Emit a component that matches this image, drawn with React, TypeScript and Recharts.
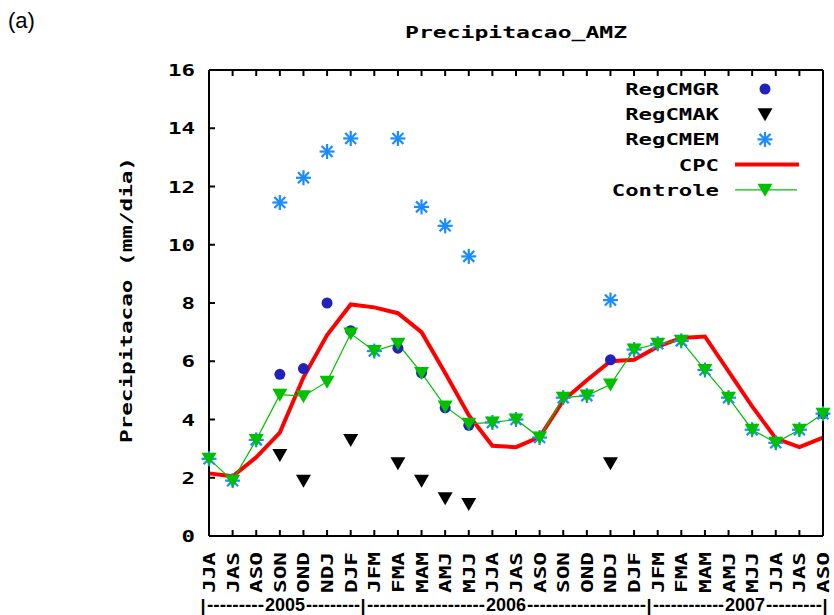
import React from "react";
import { LineChart, Line, XAxis, YAxis, Legend } from "recharts";

const seasons = ["JJA","JAS","ASO","SON","OND","NDJ","DJF","JFM","FMA","MAM","AMJ","MJJ","JJA","JAS","ASO","SON","OND","NDJ","DJF","JFM","FMA","MAM","AMJ","MJJ","JJA","JAS","ASO"];
const cpc = [2.15,2.05,2.7,3.55,5.45,6.9,7.95,7.85,7.65,7.0,5.6,4.15,3.1,3.05,3.4,4.65,5.35,6.0,6.05,6.5,6.8,6.85,5.65,4.45,3.35,3.05,3.38];
const controle = [2.65,1.9,3.3,4.85,4.8,5.3,6.95,6.35,6.6,5.6,4.45,3.85,3.9,4.0,3.38,4.75,4.82,5.2,6.4,6.6,6.7,5.7,4.75,3.65,3.2,3.65,4.2];
const regcmgr = [null,null,null,5.55,5.75,8.0,7.05,null,6.45,5.6,4.4,3.8,null,null,null,null,null,6.05,null,null,null,null,null,null,null,null,4.2];
const regcmak = [null,null,null,2.78,1.9,null,3.3,null,2.5,1.9,1.3,1.1,null,null,null,null,null,2.5,null,null,null,null,null,null,null,null,null];
const regcmem = [2.65,1.9,3.3,11.45,12.3,13.2,13.65,6.35,13.65,11.3,10.65,9.6,3.9,4.0,3.38,4.75,4.82,8.1,6.4,6.6,6.7,5.7,4.75,3.65,3.2,3.65,4.2];
const yTicks = [0,2,4,6,8,10,12,14,16];
const years = [
  { label: "2005", from: 203, to: 363, at: 285 },
  { label: "2006", from: 363, to: 649, at: 506 },
  { label: "2007", from: 649, to: 825, at: 745 },
];

const data = seasons.map((s, i) => ({
  i, season: s, cpc: cpc[i], controle: controle[i],
  gr: regcmgr[i], ak: regcmak[i], em: regcmem[i],
}));

const MONO = '"DejaVu Sans Mono", monospace';
const SANS = 'Arial, "Liberation Sans", sans-serif';
const BLUE = "#2222bb";
const SKY = "#1a8cff";
const GREEN = "#00c000";

const circle = (cx: number, cy: number, k: any) => <circle key={k} cx={cx} cy={cy} r={5.5} fill={BLUE} />;
const tri = (cx: number, cy: number, color: string, k: any) => (
  <polygon key={k} points={`${cx - 7.5},${cy - 6} ${cx + 7.5},${cy - 6} ${cx},${cy + 7}`} fill={color} />
);
const star = (cx: number, cy: number, k: any) => (
  <g key={k} stroke={SKY} strokeWidth={2.2}>
    <line x1={cx - 7.5} y1={cy} x2={cx + 7.5} y2={cy} />
    <line x1={cx} y1={cy - 7.5} x2={cx} y2={cy + 7.5} />
    <line x1={cx - 5.5} y1={cy - 5.5} x2={cx + 5.5} y2={cy + 5.5} />
    <line x1={cx - 5.5} y1={cy + 5.5} x2={cx + 5.5} y2={cy - 5.5} />
  </g>
);

const dotOf = (kind: string) => (p: any) => {
  const k = `${kind}-${p.index}`;
  if (p.value == null || p.cy == null || isNaN(p.cy)) return <g key={k} />;
  if (kind === "gr") return circle(p.cx, p.cy, k);
  if (kind === "ak") return tri(p.cx, p.cy, "#000", k);
  if (kind === "em") return star(p.cx, p.cy, k);
  return tri(p.cx, p.cy, GREEN, k);
};

const legendItems = [
  { name: "RegCMGR", kind: "gr" },
  { name: "RegCMAK", kind: "ak" },
  { name: "RegCMEM", kind: "em" },
  { name: "CPC", kind: "cpc" },
  { name: "Controle", kind: "ctl" },
];

const LegendBox = () => (
  <svg width={220} height={130}>
    {legendItems.map((it, r) => {
      const y = 17 + r * 25.2;
      return (
        <g key={it.name}>
          <text x={119} y={y + 6} textAnchor="end" fontFamily={MONO} fontWeight="bold" fontSize={16}
            textLength={it.name.length * 13.4} lengthAdjust="spacingAndGlyphs">{it.name}</text>
          {it.kind === "gr" && circle(165, y, "g")}
          {it.kind === "ak" && tri(165, y, "#000", "a")}
          {it.kind === "em" && star(165, y, "e")}
          {it.kind === "cpc" && <line x1={135} x2={199} y1={y} y2={y} stroke="#ff0000" strokeWidth={4} />}
          {it.kind === "ctl" && (
            <g>
              <line x1={135} x2={197} y1={y} y2={y} stroke={GREEN} strokeWidth={1.2} />
              {tri(165, y, GREEN, "c")}
            </g>
          )}
        </g>
      );
    })}
  </svg>
);

const XTick = (p: any) => (
  <text transform={`translate(${p.x + 6},${p.y}) rotate(-90)`} textAnchor="end" fontFamily={MONO}
    fontWeight="bold" fontSize={16} fill="#000" textLength={41} lengthAdjust="spacingAndGlyphs">
    {seasons[p.payload.value]}
  </text>
);

const YTick = (p: any) => {
  const s = String(p.payload.value);
  return (
    <text x={p.x} y={p.y + 6} textAnchor="end" fontFamily={MONO} fontWeight="bold" fontSize={16}
      fill="#000" textLength={s.length * 13.5} lengthAdjust="spacingAndGlyphs">{s}</text>
  );
};

const Empty = () => <g />;

export default function App() {
  const idx = seasons.map((_, i) => i);
  const axis = { stroke: "#000", strokeWidth: 2 };
  return (
    <div style={{ position: "absolute", left: 0, top: 0, width: 834, height: 615, background: "#fff" }}>
      <LineChart width={834} height={615} data={data} margin={{ top: 0, right: 0, bottom: 0, left: 0 }}>
        <XAxis dataKey="i" type="number" domain={[0, 26]} ticks={idx} interval={0} height={79}
          tickSize={-6} tickMargin={22} axisLine={axis} tickLine={axis} tick={XTick} />
        <XAxis xAxisId="top" orientation="top" dataKey="i" type="number" domain={[0, 26]} ticks={idx}
          interval={0} height={70} tickSize={-6} axisLine={axis} tickLine={axis} tick={Empty} />
        <YAxis domain={[0, 16]} ticks={yTicks} width={209} interval={0} tickSize={-6} tickMargin={20}
          axisLine={axis} tickLine={axis} tick={YTick} />
        <YAxis yAxisId="right" orientation="right" domain={[0, 16]} ticks={yTicks} width={11} interval={0}
          tickSize={-6} axisLine={axis} tickLine={axis} tick={Empty} />
        <Legend layout="vertical" align="center" verticalAlign="middle" content={LegendBox}
          wrapperStyle={{ left: 600, top: 72, width: 220, height: 130 }} />
        <Line dataKey="gr" stroke="none" dot={dotOf("gr")} activeDot={false} isAnimationActive={false} />
        <Line dataKey="ak" stroke="none" dot={dotOf("ak")} activeDot={false} isAnimationActive={false} />
        <Line dataKey="em" stroke="none" dot={dotOf("em")} activeDot={false} isAnimationActive={false} />
        <Line dataKey="cpc" type="linear" stroke="#ff0000" strokeWidth={4} dot={false} activeDot={false}
          isAnimationActive={false} />
        <Line dataKey="controle" type="linear" stroke={GREEN} strokeWidth={1.2} dot={dotOf("ctl")}
          activeDot={false} isAnimationActive={false} />
      </LineChart>
      <svg width={834} height={615} style={{ position: "absolute", left: 0, top: 0, pointerEvents: "none" }}>
        <text x={8} y={28} fontFamily={SANS} fontSize={22} fill="#000">(a)</text>
        <text x={405} y={38} fontFamily={MONO} fontWeight="bold" fontSize={16} textLength={222}
          lengthAdjust="spacingAndGlyphs">Precipitacao_AMZ</text>
        <text transform="translate(132,300) rotate(-90)" textAnchor="middle" fontFamily={MONO} fontWeight="bold"
          fontSize={16} textLength={286} lengthAdjust="spacingAndGlyphs">Precipitacao (mm/dia)</text>
        {years.map((y) => (
          <g key={y.label} fontFamily={SANS} fontWeight="bold" fontSize={18} fill="#000">
            <text x={y.from} y={612} textAnchor="middle">|</text>
            <text x={y.from + 4} y={611} textLength={y.at - 21 - y.from - 4} lengthAdjust="spacingAndGlyphs">
              {"-".repeat(Math.round((y.at - 21 - y.from) / 6.5))}
            </text>
            <text x={y.at} y={611} textAnchor="middle">{y.label}</text>
            <text x={y.at + 21} y={611} textLength={y.to - y.at - 24} lengthAdjust="spacingAndGlyphs">
              {"-".repeat(Math.round((y.to - y.at - 21) / 6.5))}
            </text>
          </g>
        ))}
        <text x={825} y={612} textAnchor="middle" fontFamily={SANS} fontWeight="bold" fontSize={18}>|</text>
      </svg>
    </div>
  );
}
